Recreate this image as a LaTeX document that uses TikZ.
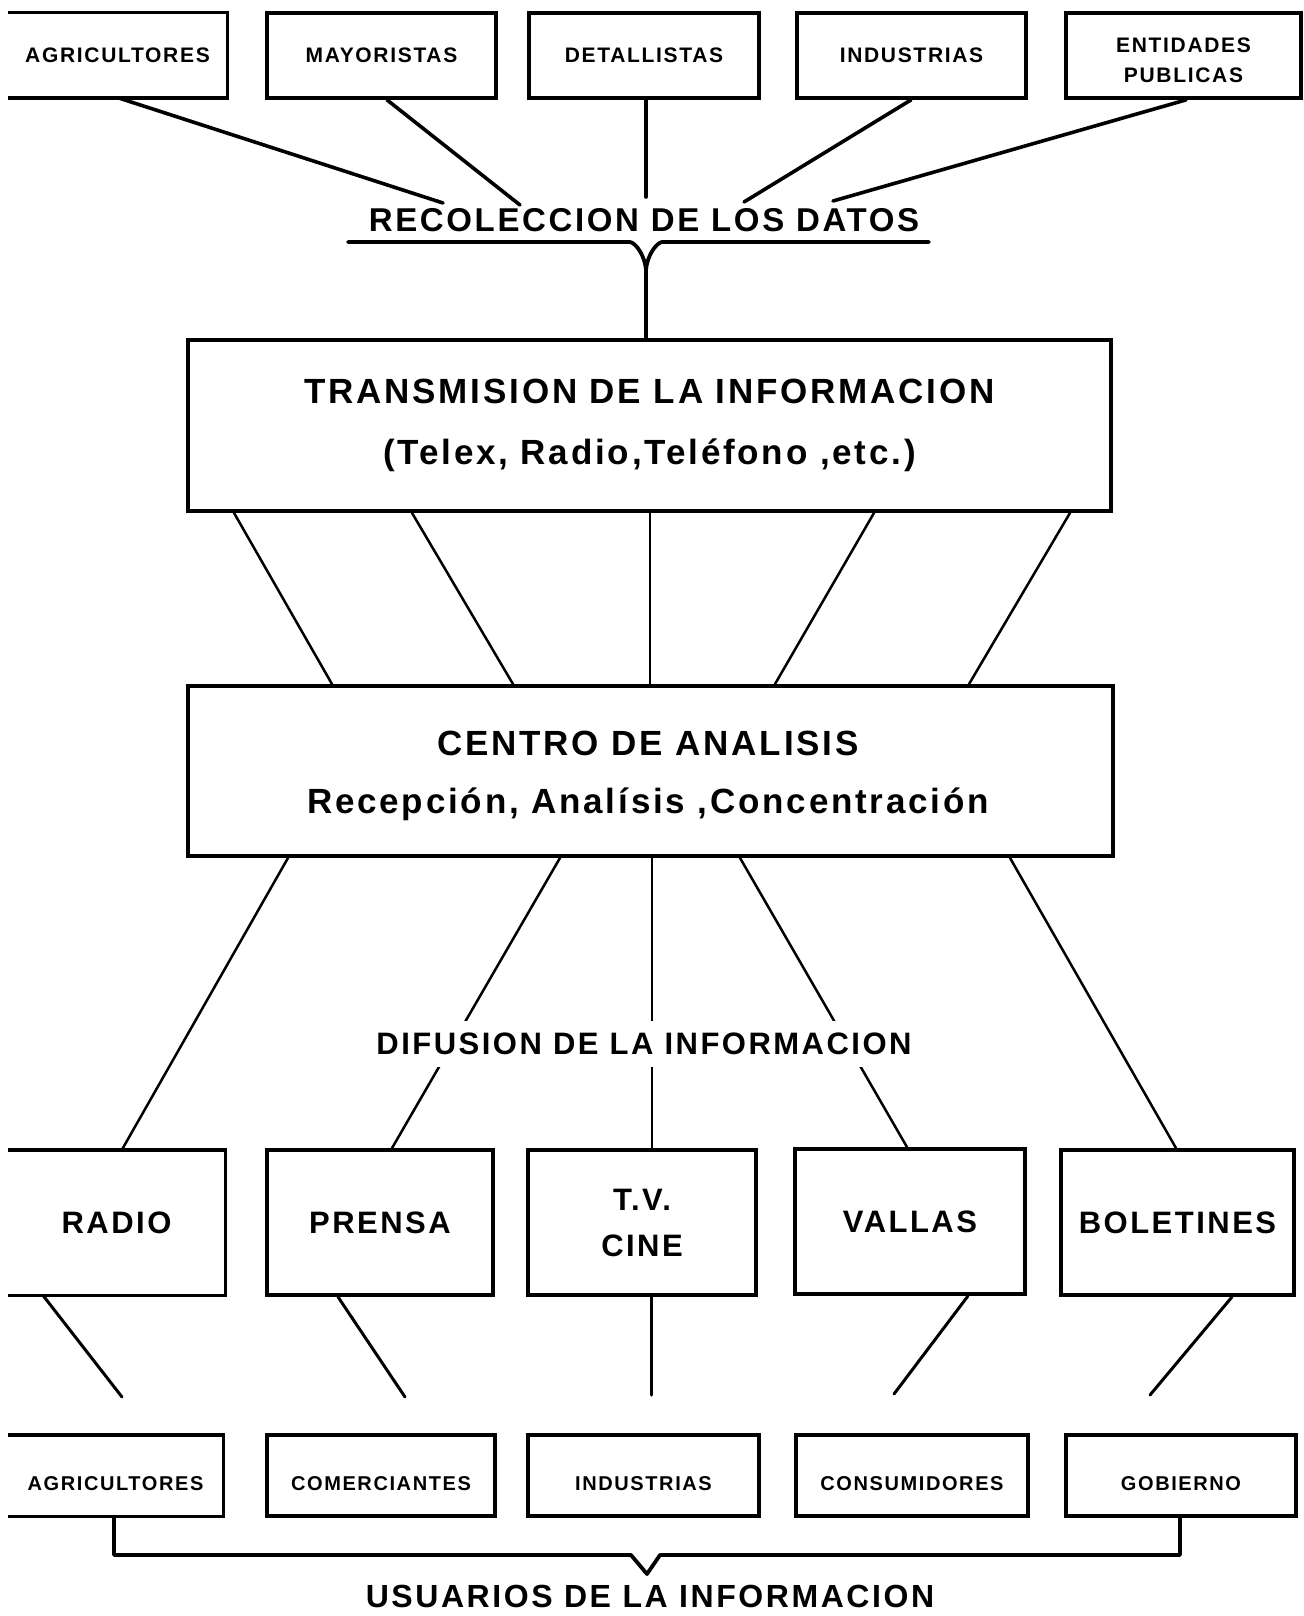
\documentclass[tikz,border=0pt]{standalone}
\usepackage{fontspec}
\setmainfont{Liberation Sans}[LetterSpace=8]
\usetikzlibrary{calc}
\begin{document}
\begin{tikzpicture}[x=0.5pt,y=-0.5pt,
  every node/.style={inner sep=0pt, align=center},
  frame/.style={line width=1.9pt},
  box/.style={draw, frame},
  small/.style={font=\bfseries\fontsize{10.5}{15}\selectfont},
  smallb/.style={font=\bfseries\fontsize{10}{15}\selectfont, text height=15pt, text depth=0pt},
  mid/.style={font=\bfseries\fontsize{15.5}{23}\selectfont},
  big/.style={font=\bfseries\fontsize{17.5}{30.5}\selectfont},
  bigc/.style={font=\bfseries\fontsize{17.5}{29}\selectfont},
  toprow/.style={minimum height=42.5pt},
  medrow/.style={minimum height=72.5pt},
  lowrow/.style={minimum height=40.5pt},
  conn/.style={line width=1.8pt, line cap=round},
  mline/.style={line width=1.25pt, line cap=round},
  lline/.style={line width=1.5pt, line cap=round}
]
\useasboundingbox (0,0) rectangle (1304,1616);
\fill[white] (0,0) rectangle (1304,1616);

% ---- top row: sources ----
\node[small, toprow, minimum width=109.5pt] (a1) at (117.5,55.5) {AGRICULTORES};
\draw[frame] (a1.north west) -- (a1.north east) -- (a1.south east) -- (a1.south west);
\node[box, small, toprow, minimum width=114.5pt] (a2) at (381.5,55.5) {MAYORISTAS};
\node[box, small, toprow, minimum width=115pt] (a3) at (644,55.5) {DETALLISTAS};
\node[box, small, toprow, minimum width=114.5pt] (a4) at (911.5,55.5) {INDUSTRIAS};
\node[box, toprow, minimum width=117.5pt] (a5) at (1183.5,55.5) {};
\node[small] (a5t) at (1183.5,60) {ENTIDADES\\PUBLICAS};

% ---- collection label ----
\node[font=\bfseries\fontsize{16.5}{20}\selectfont] (recol) at (644,220) {RECOLECCION DE LOS DATOS};
\coordinate (r1) at (443,203);
\coordinate (r2) at (520,205);
\coordinate (r3) at (646,197);
\coordinate (r4) at (744,202);
\coordinate (r5) at (833,201);
\draw[conn] (a1.south -| 120,0) -- (r1);
\draw[conn] (a2.south -| 387,0) -- (r2);
\draw[conn] (a3.south -| 646,0) -- (r3);
\draw[conn] (a4.south -| 911,0) -- (r4);
\draw[conn] (a5.south -| 1186,0) -- (r5);

% ---- transmission box ----
\node[box, big, minimum width=461.5pt, minimum height=85.5pt] (trans) at (649.5,425.5)
  {TRANSMISION DE LA INFORMACION\\(Telex, Radio,Teléfono ,etc.)};

\coordinate (ulL) at (348,242);
\coordinate (ulR) at (929,242);
\coordinate (yj) at (646,270);
\draw[frame, line cap=round] (ulL) -- (630,242) .. controls (636,243) and (645,256) .. (yj) -- (trans.north -| 646,0);
\draw[frame, line cap=round] (ulR) -- (662,242) .. controls (656,243) and (647,256) .. (yj);

% ---- analysis centre ----
\node[box, minimum width=462.5pt, minimum height=85pt] (cen) at (650.5,771) {};
\node[bigc] (cent) at (648,776) {CENTRO DE ANALISIS\\Recepción, Analísis ,Concentración};

\draw[mline] (trans.south -| 234,0) -- (cen.north -| 332,0);
\draw[mline] (trans.south -| 412,0) -- (cen.north -| 513,0);
\draw[mline] (trans.south -| 650,0) -- (cen.north -| 650,0);
\draw[mline] (trans.south -| 874,0) -- (cen.north -| 775,0);
\draw[mline] (trans.south -| 1070,0) -- (cen.north -| 969,0);

% ---- media row ----
\node[mid, medrow, minimum width=108.5pt] (b1) at (116.5,1222.5) {RADIO};
\draw[frame] (b1.north west) -- (b1.north east) -- (b1.south east) -- (b1.south west);
\node[box, mid, medrow, minimum width=113pt] (b2) at (380,1222.5) {PRENSA};
\node[box, mid, medrow, minimum width=114pt] (b3) at (642,1222.5) {T.V.\\CINE};
\node[box, mid, medrow, minimum width=115pt] (b4) at (910,1221.5) {VALLAS};
\node[box, mid, medrow, minimum width=116.5pt] (b5) at (1177.5,1222.5) {BOLETINES};

\draw[mline] (cen.south -| 288,0) -- (b1.north -| 122,0);
\draw[mline] (cen.south -| 560,0) -- (b2.north -| 392,0);
\draw[mline] (cen.south -| 652,0) -- (b3.north -| 652,0);
\draw[mline] (cen.south -| 740,0) -- (b4.north -| 907,0);
\draw[mline] (cen.south -| 1010,0) -- (b5.north -| 1176,0);

\node[fill=white, inner xsep=3pt, minimum height=23pt, font=\bfseries\fontsize{15.5}{20}\selectfont] (dif) at (644,1044) {DIFUSION DE LA INFORMACION};

% ---- users row ----
\node[smallb, lowrow, minimum width=107.5pt] (c1) at (115.5,1475.5) {AGRICULTORES};
\draw[frame] (c1.north west) -- (c1.north east) -- (c1.south east) -- (c1.south west);
\node[box, smallb, lowrow, minimum width=114pt] (c2) at (381,1475.5) {COMERCIANTES};
\node[box, smallb, lowrow, minimum width=115.5pt] (c3) at (643.5,1475.5) {INDUSTRIAS};
\node[box, smallb, lowrow, minimum width=116pt] (c4) at (912,1475.5) {CONSUMIDORES};
\node[box, smallb, lowrow, minimum width=115pt] (c5) at (1181,1475.5) {GOBIERNO};

\coordinate (e1) at (122,1397);
\coordinate (e2) at (405,1397);
\coordinate (e3) at (651,1395);
\coordinate (e4) at (894,1394);
\coordinate (e5) at (1150,1395);
\draw[lline] (b1.south -| 43,0) -- (e1);
\draw[lline] (b2.south -| 338,0) -- (e2);
\draw[lline] (b3.south -| 651,0) -- (e3);
\draw[lline] (b4.south -| 968,0) -- (e4);
\draw[lline] (b5.south -| 1232,0) -- (e5);

% ---- bracket and users label ----
\draw[frame, line cap=round, line join=round] (c1.south -| 114,0) -- (114,1555) -- (631,1555) -- (647,1574) -- (660,1555) -- (1180,1555) -- (c5.south -| 1180,0);
\node[font=\bfseries\fontsize{16}{20}\selectfont] (usu) at (650,1596) {USUARIOS DE LA INFORMACION};
\end{tikzpicture}
\end{document}
